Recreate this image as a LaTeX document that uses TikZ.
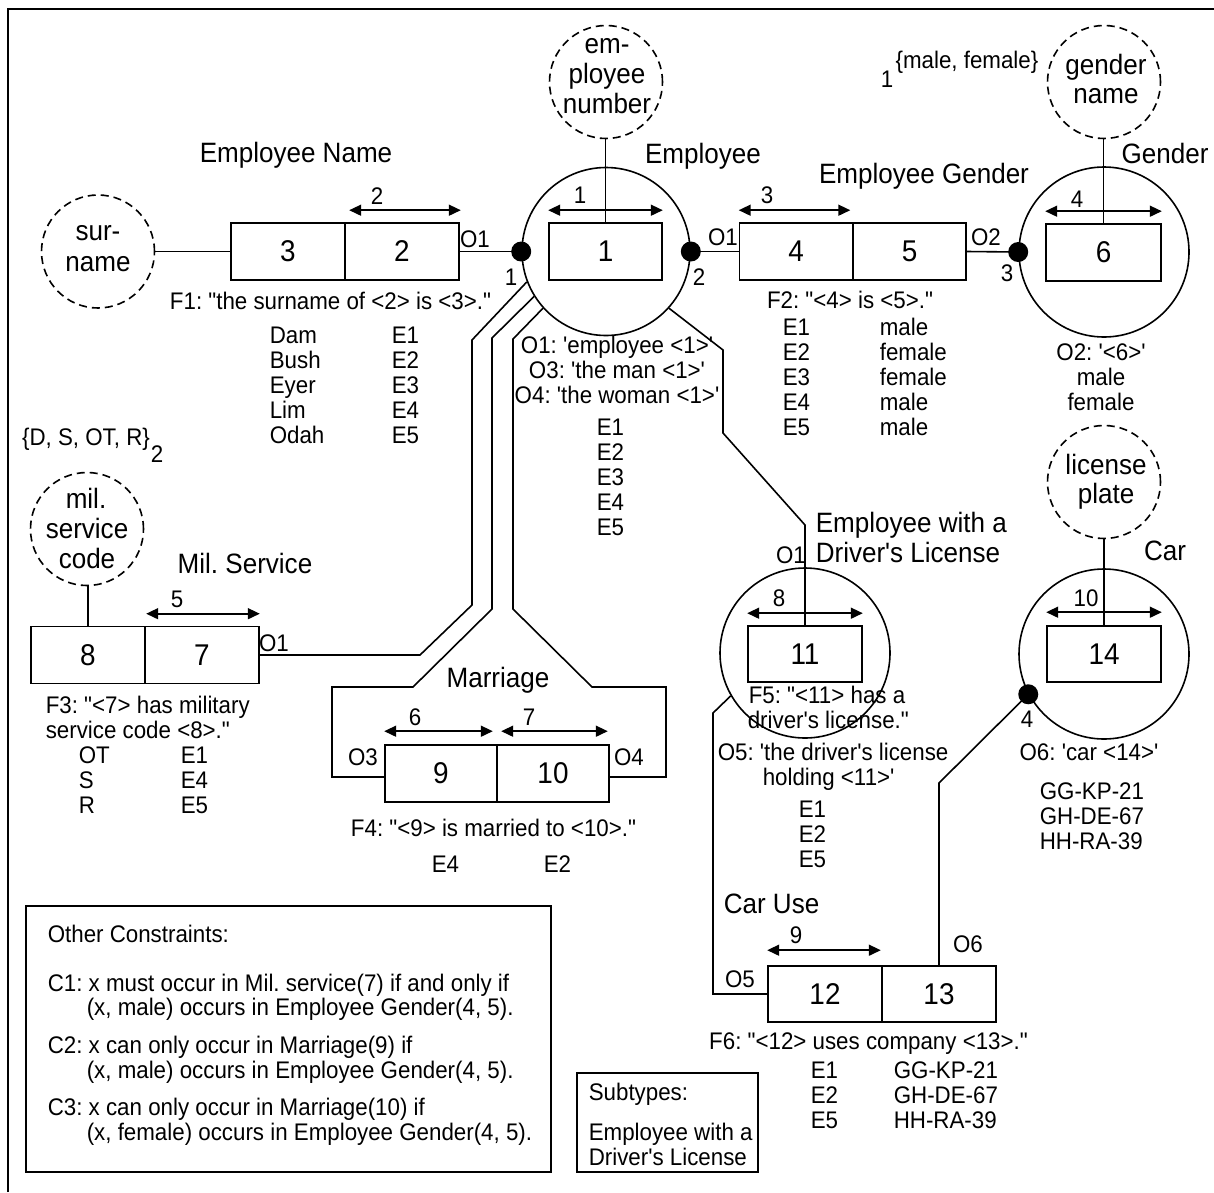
\documentclass[tikz,border=0pt]{standalone}
\usepackage{fontspec}
\setmainfont{Liberation Sans}[FakeStretch=0.93,Ligatures=TeXOff]
\usetikzlibrary{arrows.meta}
\frenchspacing
\begin{document}
\begin{tikzpicture}[x=1pt,y=-1pt,line width=1.6pt,
  sm/.style={font=\fontsize{24}{25}\selectfont,inner sep=0pt},
  lg/.style={font=\fontsize{28}{30}\selectfont,inner sep=0pt},
  cell/.style={draw,minimum width=114pt,minimum height=57pt,inner sep=0pt,font=\fontsize{30}{32}\selectfont},
  ent/.style={draw,circle,minimum size=170pt,inner sep=0pt},
  valt/.style={draw,circle,dash pattern=on 8pt off 5pt,minimum size=113pt,inner sep=0pt},
  roledot/.style={fill,circle,minimum size=20pt,inner sep=0pt},
  uc/.style={{Triangle[length=12pt,width=11pt]}-{Triangle[length=12pt,width=11pt]}},
  lbl/.style={sm,anchor=base},
  lw/.style={sm,anchor=base west},
  tl/.style={lg,anchor=base},
  tlw/.style={lg,anchor=base west}]

\useasboundingbox (0,0) rectangle (1214,1192);
\fill[white] (0,0) rectangle (1214,1192);
\draw (8,1192) -- (8,9) -- (1214,9);

% ---------- object types ----------
\node[ent,minimum size=168pt] (emp) at (606,251.5) {};
\node[ent] (gender) at (1104,252) {};
\node[ent] (driver) at (805,653) {};
\node[ent] (car) at (1104,654) {};

% ---------- value types ----------
\node[valt] (sur) at (98,251.5) {};
\node[tl] (surA) at (98,240) {sur-};
\node[tl] (surB) at (98,271) {name};
\node[valt] (empnum) at (606,82) {};
\node[tl] (enA) at (607,53) {em-};
\node[tl] (enB) at (607,83) {ployee};
\node[tl] (enC) at (607,113) {number};
\node[valt] (gname) at (1104,82) {};
\node[tl] (gnA) at (1106,74) {gender};
\node[tl] (gnB) at (1106,103) {name};
\node[valt] (milc) at (87,529) {};
\node[tl] (mcA) at (86,508) {mil.};
\node[tl] (mcB) at (87,538) {service};
\node[tl] (mcC) at (87,568) {code};
\node[valt] (plate) at (1104,482) {};
\node[tl] (plA) at (1106,474) {license};
\node[tl] (plB) at (1106,503) {plate};

% ---------- role boxes ----------
\node[cell] (c3) at (288,251.5) {3};
\node[cell] (c2) at (402,251.5) {2};
\node[cell,minimum width=113pt] (b1) at (605.5,251.5) {1};
\node[cell,minimum width=113pt] (c4) at (796,251.5) {4};
\node[cell,minimum width=113pt] (c5) at (909.5,251.5) {5};
\node[cell,minimum width=115pt] (b6) at (1103.5,252.5) {6};
\node[cell] (c8) at (88,655) {8};
\node[cell] (c7) at (202,655) {7};
\node[cell,minimum width=112pt] (c9) at (441,773.5) {9};
\node[cell,minimum width=112pt] (c10) at (553,773.5) {10};
\node[cell,minimum height=56pt] (b11) at (805,654) {11};
\node[cell,minimum height=56pt] (b14) at (1104,654) {14};
\node[cell,minimum height=56pt] (c12) at (825,994) {12};
\node[cell,minimum height=56pt] (c13) at (939,994) {13};

% ---------- mandatory role dots ----------
\node[roledot] (dl) at (emp.west) {};
\node[roledot] (dr) at (emp.east) {};
\node[roledot] (dg) at (gender.west) {};
\node[roledot] (dc) at (car.208) {};

% ---------- connectors ----------
\draw (c3.west) -- (c3.west -| sur.east);
\draw (c2.east) -- (dl.center);
\draw (dr.center) -- (c4.west);
\draw (c5.east) -- (dg.center);
\draw (b1.north |- empnum.south) -- (b1.north);
\draw (b6.north |- gname.south) -- (b6.north);
\draw (c8.north |- milc.south) -- (c8.north);
\draw (plate.south) -- (b14.north);
\draw (emp.201) -- (472,340) -- (472,605) -- (420,655) -- (c7.east);
\draw (emp.212) -- (492,338) -- (492,609) -- (413,687) -- (332,687) -- (332,777) -- (c9.west |- 0,777);
\draw (emp.222) -- (513,339) -- (513,609) -- (592,687) -- (666,687) -- (666,777) -- (c10.east |- 0,777);
\draw (emp.318) -- (723,350) -- (723,433) -- (805,525) -- (b11.north);
\draw (driver.210) -- (713,713) -- (713,994) -- (c12.west);
\draw (dc.center) -- (c13.north |- 0,783) -- (c13.north);

% ---------- uniqueness constraints ----------
\draw[uc] ([shift={(5,-12)}]c2.north west) -- ([shift={(1,-12)}]c2.north east);
\draw[uc] ([shift={(0,-12)}]b1.north west) -- ([shift={(0,-12)}]b1.north east);
\draw[uc] ([shift={(0,-12)}]c4.north west) -- ([shift={(-3,-12)}]c4.north east);
\draw[uc] ([shift={(0,-12)}]b6.north west) -- ([shift={(0,-12)}]b6.north east);
\draw[uc] ([shift={(2,-12)}]c7.north west) -- ([shift={(0,-12)}]c7.north east);
\draw[uc] ([shift={(0,-13)}]c9.north west) -- ([shift={(-5,-13)}]c9.north east);
\draw[uc] ([shift={(5,-13)}]c10.north west) -- ([shift={(-2,-13)}]c10.north east);
\draw[uc] ([shift={(0,-12)}]b11.north west) -- ([shift={(0,-12)}]b11.north east);
\draw[uc] ([shift={(0,-13)}]b14.north west) -- ([shift={(0,-13)}]b14.north east);
\draw[uc] ([shift={(0,-15)}]c12.north west) -- ([shift={(-2,-15)}]c12.north east);

\node[lbl] (u2) at (377,204) {2};
\node[lbl] (u1) at (580,203) {1};
\node[lbl] (u3) at (767,203) {3};
\node[lbl] (u4) at (1077,207) {4};
\node[lbl] (u5) at (177,607) {5};
\node[lbl] (u6) at (415,725) {6};
\node[lbl] (u7) at (529,725) {7};
\node[lbl] (u8) at (779,606) {8};
\node[lbl] (u10) at (1086,606) {10};
\node[lbl] (u9) at (796,943) {9};

% ---------- role numbers and reading labels ----------
\node[lbl] (r1) at (511,285) {1};
\node[lbl] (r2) at (699,285) {2};
\node[lbl] (r3) at (1007,281) {3};
\node[lbl] (r4) at (1027,727) {4};
\node[lbl] (oA) at (475,247) {O1};
\node[lbl] (oB) at (723,245) {O1};
\node[lbl] (oC) at (986,245) {O2};
\node[lbl] (oD) at (274,651) {O1};
\node[lbl] (oE) at (363,765) {O3};
\node[lbl] (oF) at (629,765) {O4};
\node[lbl] (oG) at (791,563) {O1};
\node[lbl] (oH) at (740,987) {O5};
\node[lbl] (oI) at (968,952) {O6};

% ---------- type names ----------
\node[tl] (tEN) at (296,162) {Employee Name};
\node[tl] (tE) at (703,163) {Employee};
\node[tl] (tEG) at (924,183) {Employee Gender};
\node[tl] (tG) at (1165,163) {Gender};
\node[tl] (tMS) at (245,573) {Mil. Service};
\node[tl] (tM) at (498,687) {Marriage};
\node[tlw] (tDA) at (815,532) {Employee with a};
\node[tlw] (tDB) at (815,562) {Driver's License};
\node[tl] (tC) at (1165,560) {Car};
\node[tlw] (tCU) at (723,913) {Car Use};

% ---------- value constraints ----------
\node[lbl] (vcA) at (967,68) {\{male, female\}};
\node[lbl] (vcAn) at (887,87) {1};
\node[lbl] (vcB) at (86,445) {\{D, S, OT, R\}};
\node[lbl] (vcBn) at (157,462) {2};

% ---------- Employee Name ----------
\node[lbl] (f1) at (330.5,309) {F1: "the surname of <2> is <3>."};
\node[lw] (p1a) at (269,343) {Dam};
\node[lw] (p1b) at (269,368) {Bush};
\node[lw] (p1c) at (269,393) {Eyer};
\node[lw] (p1d) at (269,418) {Lim};
\node[lw] (p1e) at (269,443) {Odah};
\node[lw] (q1a) at (391,343) {E1};
\node[lw] (q1b) at (391,368) {E2};
\node[lw] (q1c) at (391,393) {E3};
\node[lw] (q1d) at (391,418) {E4};
\node[lw] (q1e) at (391,443) {E5};

% ---------- Employee ----------
\node[lbl] (eo1) at (617,353) {O1: 'employee <1>'};
\node[lbl] (eo3) at (617,378) {O3: 'the man <1>'};
\node[lbl] (eo4) at (617,403) {O4: 'the woman <1>'};
\node[lw] (pe1) at (596,435) {E1};
\node[lw] (pe2) at (596,460) {E2};
\node[lw] (pe3) at (596,485) {E3};
\node[lw] (pe4) at (596,510) {E4};
\node[lw] (pe5) at (596,535) {E5};

% ---------- Employee Gender ----------
\node[lbl] (f2) at (850,308) {F2: "<4> is <5>."};
\node[lw] (p2a) at (782,335) {E1};
\node[lw] (p2b) at (782,360) {E2};
\node[lw] (p2c) at (782,385) {E3};
\node[lw] (p2d) at (782,410) {E4};
\node[lw] (p2e) at (782,435) {E5};
\node[lw] (q2a) at (879,335) {male};
\node[lw] (q2b) at (879,360) {female};
\node[lw] (q2c) at (879,385) {female};
\node[lw] (q2d) at (879,410) {male};
\node[lw] (q2e) at (879,435) {male};

% ---------- Gender ----------
\node[lbl] (go2) at (1101,360) {O2: '<6>'};
\node[lbl] (pga) at (1101,385) {male};
\node[lbl] (pgb) at (1101,410) {female};

% ---------- Mil. Service ----------
\node[lw] (f3a) at (45,713) {F3: "<7> has military};
\node[lw] (f3b) at (45,738) {service code <8>."};
\node[lw] (p3a) at (78,763) {OT};
\node[lw] (p3b) at (78,788) {S};
\node[lw] (p3c) at (78,813) {R};
\node[lw] (q3a) at (180,763) {E1};
\node[lw] (q3b) at (180,788) {E4};
\node[lw] (q3c) at (180,813) {E5};

% ---------- Marriage ----------
\node[lbl] (f4) at (493.5,836) {F4: "<9> is married to <10>."};
\node[lw] (p4a) at (431,872) {E4};
\node[lw] (q4a) at (543,872) {E2};

% ---------- Employee with a Driver's License ----------
\node[lw] (f5a) at (748,703) {F5: "<11> has a};
\node[lw] (f5b) at (747,728) {driver's license."};
\node[lw] (do5a) at (717,760) {O5: 'the driver's license};
\node[lw] (do5b) at (762,785) {holding <11>'};
\node[lw] (pda) at (798,817) {E1};
\node[lw] (pdb) at (798,842) {E2};
\node[lw] (pdc) at (798,867) {E5};

% ---------- Car ----------
\node[lbl] (co6) at (1089,760) {O6: 'car <14>'};
\node[lw] (pca) at (1039,799) {GG-KP-21};
\node[lw] (pcb) at (1039,824) {GH-DE-67};
\node[lw] (pcc) at (1039,849) {HH-RA-39};

% ---------- Car Use ----------
\node[lbl] (f6) at (868.5,1049) {F6: "<12> uses company <13>."};
\node[lw] (p6a) at (810,1078) {E1};
\node[lw] (p6b) at (810,1103) {E2};
\node[lw] (p6c) at (810,1128) {E5};
\node[lw] (q6a) at (893,1078) {GG-KP-21};
\node[lw] (q6b) at (893,1103) {GH-DE-67};
\node[lw] (q6c) at (893,1128) {HH-RA-39};

% ---------- textual constraints ----------
\node[draw,minimum width=525pt,minimum height=266pt,inner sep=0pt] (cbox) at (288.5,1039) {};
\node[lw] (k0) at (47,942) {Other Constraints:};
\node[lw] (k1a) at (47,991) {C1: x must occur in Mil. service(7) if and only if};
\node[lw] (k1b) at (86,1015) {(x, male) occurs in Employee Gender(4, 5).};
\node[lw] (k2a) at (47,1053) {C2: x can only occur in Marriage(9) if};
\node[lw] (k2b) at (86,1078) {(x, male) occurs in Employee Gender(4, 5).};
\node[lw] (k3a) at (47,1115) {C3: x can only occur in Marriage(10) if};
\node[lw] (k3b) at (86,1140) {(x, female) occurs in Employee Gender(4, 5).};

\node[draw,minimum width=181pt,minimum height=99pt,inner sep=0pt] (sbox) at (667.5,1122.5) {};
\node[lw] (s0) at (588,1100) {Subtypes:};
\node[lw] (s1) at (588,1140) {Employee with a};
\node[lw] (s2) at (588,1165) {Driver's License};
\end{tikzpicture}
\end{document}
